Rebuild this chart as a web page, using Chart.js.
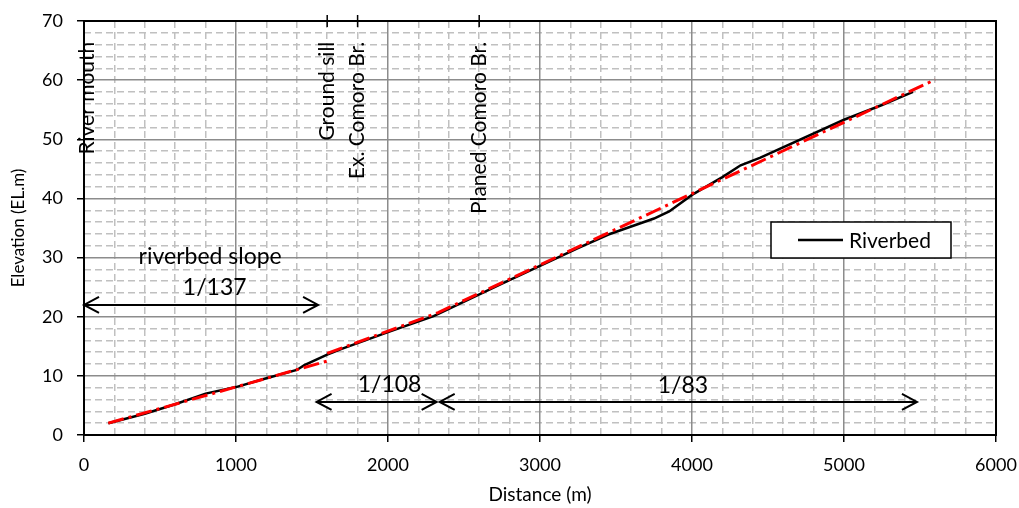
<!DOCTYPE html>
<html>
<head>
<meta charset="utf-8">
<script src="https://cdn.jsdelivr.net/npm/chart.js@4"></script>
<style>
  html, body { margin: 0; padding: 0; background: #fff; }
  #wrap { width: 1019px; height: 508px; }
</style>
</head>
<body>
<div id="wrap"><canvas id="myChart"></canvas></div>
<script>
// riverbed profile (distance m, elevation EL.m)
const bedDist = [160, 400, 600, 800, 1000, 1200, 1400, 1450, 1600, 1700, 2000, 2300, 2480, 2750,
                 3000, 3250, 3450, 3750, 3850, 4000, 4200, 4320, 4450, 5000, 5250, 5454];
const bedElev = [2.0, 3.6, 5.2, 7.0, 8.1, 9.6, 11.0, 11.8, 13.6, 14.6, 17.4, 20.1, 22.3, 25.6,
                 28.6, 31.6, 33.9, 36.6, 37.8, 40.6, 43.6, 45.6, 46.9, 53.3, 55.8, 58.0];

// slope lines (null = break)
const slopeDist = [160, 1600, 1600, 1600, 2330, 5600];
const slopeElev = [2.0, 12.5, null, 13.8, 20.7, 60.1];

// landmarks along the river
const siteNames = ['River mouth', 'Ground sill', 'Ex. Comoro Br.', 'Planed Comoro Br.'];
const siteDist = [0, 1600, 1800, 2600];
const markDist = [1600, 1800, 2600];

// slope arrows + labels
const arrowFrom = [0, 1530, 2340];
const arrowTo = [1540, 2320, 5480];
const arrowElev = [22, 5.6, 5.6];
const noteText = ['riverbed slope', '1/137', '1/108', '1/83'];
const noteDist = [830, 860, 2010, 3940];
const noteElev = [30.1, 25.0, 8.5, 8.3];

const FONT = 'Lato, "Liberation Sans", sans-serif';

const annot = {
  id: 'annot',
  beforeDatasetsDraw(chart) {
    const c = chart.ctx, a = chart.chartArea;
    const xs = chart.scales.x, ys = chart.scales.y;
    c.save();
    // plot border
    c.strokeStyle = '#000';
    c.lineWidth = 2;
    c.strokeRect(a.left, a.top, a.right - a.left, a.bottom - a.top);

    // arrows
    c.lineWidth = 2;
    arrowFrom.forEach((f, i) => {
      const x1 = xs.getPixelForValue(f), x2 = xs.getPixelForValue(arrowTo[i]);
      const y = ys.getPixelForValue(arrowElev[i]);
      c.beginPath();
      c.moveTo(x1, y); c.lineTo(x2, y);
      c.moveTo(x1 + 15, y - 8); c.lineTo(x1, y); c.lineTo(x1 + 15, y + 8);
      c.moveTo(x2 - 15, y - 8); c.lineTo(x2, y); c.lineTo(x2 - 15, y + 8);
      c.stroke();
    });

    // slope notes
    c.fillStyle = '#000';
    c.font = '23px ' + FONT;
    c.textAlign = 'center';
    c.textBaseline = 'middle';
    noteText.forEach((t, i) => {
      c.fillText(t, xs.getPixelForValue(noteDist[i]), ys.getPixelForValue(noteElev[i]));
    });

    // landmark labels (vertical)
    c.font = '21px ' + FONT;
    c.textAlign = 'right';
    siteNames.forEach((t, i) => {
      const x = xs.getPixelForValue(siteDist[i]) + (i === 0 ? 3 : 0);
      c.save();
      c.translate(x, ys.getPixelForValue(66.5));
      c.rotate(-Math.PI / 2);
      c.fillText(t, 0, 0);
      c.restore();
    });
    c.restore();
  },
  afterDraw(chart) {
    // legend box
    const c = chart.ctx;
    c.save();
    c.fillStyle = '#fff';
    c.fillRect(771, 222, 180, 36);
    c.strokeStyle = '#000';
    c.lineWidth = 1.5;
    c.strokeRect(771, 222, 180, 36);
    c.lineWidth = 2.5;
    c.beginPath(); c.moveTo(798, 240); c.lineTo(843, 240); c.stroke();
    c.fillStyle = '#000';
    c.font = '21px ' + FONT;
    c.textAlign = 'left';
    c.textBaseline = 'middle';
    c.fillText('Riverbed', 849, 241);
    c.restore();
  }
};

const ctx = document.getElementById('myChart');
new Chart(ctx, {
  type: 'scatter',
  data: {
    datasets: [{
      label: 'Slope',
      data: slopeDist.map((d, i) => ({ x: d, y: slopeElev[i] })),
      showLine: true,
      spanGaps: false,
      borderColor: '#ff0000',
      borderWidth: 3,
      borderDash: [16, 5, 3, 5],
      pointRadius: 0,
      order: 0
    }, {
      label: 'Riverbed',
      data: bedDist.map((d, i) => ({ x: d, y: bedElev[i] })),
      showLine: true,
      borderColor: '#000',
      borderWidth: 2.5,
      pointRadius: 0,
      order: 1
    }, {
      label: 'marks',
      data: markDist.map(d => ({ x: d, y: 70 })),
      pointStyle: 'line',
      rotation: 90,
      pointRadius: 6,
      borderColor: '#000',
      borderWidth: 1.5,
      clip: false,
      order: 2
    }]
  },
  options: {
    responsive: true,
    maintainAspectRatio: false,
    animation: false,
    layout: { padding: { top: 21, right: 23, left: 0, bottom: 0 } },
    plugins: {
      legend: { display: false },
      tooltip: { enabled: false }
    },
    scales: {
      xMinor: {
        type: 'linear', position: 'bottom', min: 0, max: 6000,
        ticks: { display: false, stepSize: 200 },
        grid: { color: (c) => c.tick.value % 1000 === 0 ? 'rgba(0,0,0,0)' : '#c0c0c0', lineWidth: 1.5, drawTicks: false },
        border: { display: false, dash: [7, 4] },
        afterFit: (s) => { s.height = 0; s.paddingLeft = 0; s.paddingRight = 0; }
      },
      yMinor: {
        type: 'linear', position: 'left', min: 0, max: 70,
        ticks: { display: false, stepSize: 2 },
        grid: { color: (c) => c.tick.value % 10 === 0 ? 'rgba(0,0,0,0)' : '#c0c0c0', lineWidth: 1.5, drawTicks: false },
        border: { display: false, dash: [7, 4] },
        afterFit: (s) => { s.width = 0; s.paddingTop = 0; s.paddingBottom = 0; }
      },
      x: {
        type: 'linear', position: 'bottom', min: 0, max: 6000,
        ticks: { stepSize: 1000, color: '#000', font: { family: FONT, size: 18 }, padding: 12,
                 callback: (v) => String(v) },
        grid: { color: '#8c8c8c', lineWidth: 1.5, tickLength: 7, tickColor: '#000' },
        border: { color: '#000', width: 2 },
        title: { display: true, text: 'Distance (m)', color: '#000', font: { family: FONT, size: 19 }, padding: { top: 0, bottom: 2 } },
        afterFit: (s) => { s.height = 73; s.paddingLeft = 0; s.paddingRight = 0; }
      },
      y: {
        type: 'linear', position: 'left', min: 0, max: 70,
        ticks: { stepSize: 10, color: '#000', font: { family: FONT, size: 18 }, padding: 14 },
        grid: { color: '#8c8c8c', lineWidth: 1.5, tickLength: 7, tickColor: '#000' },
        border: { color: '#000', width: 2 },
        title: { display: true, text: 'Elevation (EL.m)', color: '#000', font: { family: FONT, size: 17 }, padding: { top: 8, bottom: 0 } },
        afterFit: (s) => { s.width = 84; s.paddingTop = 0; s.paddingBottom = 0; }
      }
    }
  },
  plugins: [annot]
});
</script>
</body>
</html>
